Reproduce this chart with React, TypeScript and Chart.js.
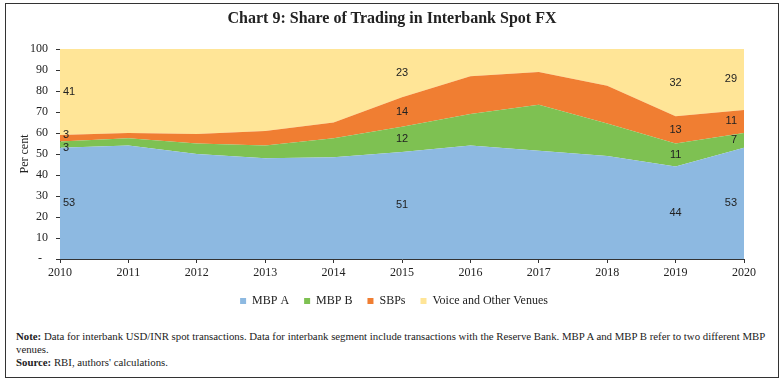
import React, { useEffect, useRef } from "react";
import { Chart, registerables } from "chart.js";

Chart.register(...registerables);

const years = ["2010", "2011", "2012", "2013", "2014", "2015", "2016", "2017", "2018", "2019", "2020"];
const mbpA = [53, 54, 50, 48, 48.5, 51, 54, 51.5, 49, 44, 53];
const mbpB = [3, 3.5, 5, 6, 9, 12, 15, 22, 15.5, 11, 7];
const sbps = [3, 2.5, 4.5, 7, 7.5, 14, 18, 15.5, 18, 13, 11];
const voice = [41, 40, 40.5, 39, 35, 23, 13, 11, 17.5, 32, 29];
const labelledYears = ["2010", "2015", "2019", "2020"];
const yTicks = [0, 10, 20, 30, 40, 50, 60, 70, 80, 90, 100];

const seriesNames = ["MBP A", "MBP B", "SBPs", "Voice and Other Venues"];
const seriesColors = ["#8DB9E1", "#7EC152", "#F07E32", "#FFE597"];

const SERIF = "'Liberation Serif', 'DejaVu Serif', serif";
const SANS = "'Liberation Sans', Arial, sans-serif";

const segLabels = {
  id: "segLabels",
  afterDatasetsDraw(chart: any) {
    const ctx = chart.ctx;
    const xs = chart.scales.x;
    const ys = chart.scales.y;
    ctx.save();
    ctx.font = `11px ${SANS}`;
    ctx.fillStyle = "#222";
    ctx.textBaseline = "middle";
    labelledYears.forEach((yr) => {
      const i = years.indexOf(yr);
      const px = xs.getPixelForValue(i);
      let cum = 0;
      const items = chart.data.datasets.map((ds: any) => {
        const v = ds.data[i] as number;
        const c = cum + v / 2;
        cum += v;
        return { text: String(Math.round(v)), y: ys.getPixelForValue(c) };
      });
      const minGap = 13;
      for (let pass = 0; pass < 6; pass++) {
        for (let k = 0; k < items.length - 1; k++) {
          const gap = items[k].y - items[k + 1].y;
          if (gap < minGap) {
            const d = (minGap - gap) / 2;
            items[k].y += d;
            items[k + 1].y -= d;
          }
        }
      }
      const last = years.length - 1;
      ctx.textAlign = i === 0 ? "left" : i === last ? "right" : "center";
      const x = i === 0 ? px + 3 : i === last ? px - 7 : px;
      items.forEach((it: any) => ctx.fillText(it.text, x, it.y));
    });
    ctx.restore();
  },
};

const legendShift = {
  id: "legendShift",
  beforeDraw(chart: any) {
    const lg = chart.legend;
    if (lg && !lg._shifted) {
      lg.left += 15;
      lg.right += 15;
      lg._shifted = true;
    }
  },
};

function ChartCanvas() {
  const ref = useRef<HTMLCanvasElement | null>(null);
  useEffect(() => {
    if (!ref.current) return;
    const seriesData = [mbpA, mbpB, sbps, voice];
    const chart = new Chart(ref.current, {
      type: "line",
      data: {
        labels: years,
        datasets: seriesData.map((d, k) => ({
          label: seriesNames[k],
          data: d,
          backgroundColor: seriesColors[k],
          borderColor: seriesColors[k],
          borderWidth: 0,
          pointRadius: 0,
          tension: 0,
          fill: k === 0 ? "origin" : "-1",
        })),
      },
      options: {
        responsive: false,
        animation: false,
        layout: { padding: { left: 14, right: 40, top: 49, bottom: 0 } },
        plugins: {
          legend: {
            position: "bottom",
            labels: {
              boxWidth: 6,
              boxHeight: 6,
              padding: 15,
              color: "#222",
              font: { family: SERIF, size: 12 },
            },
          },
          tooltip: { enabled: false },
        },
        scales: {
          x: {
            type: "category",
            offset: false,
            grid: { display: true, drawOnChartArea: false, drawTicks: true, tickLength: 4, color: "#333" },
            border: { display: true, color: "#333", width: 1 },
            ticks: { color: "#222", font: { family: SERIF, size: 12 }, padding: 3, maxRotation: 0, autoSkip: false },
            afterFit(s: any) {
              s.height = 21;
            },
          },
          y: {
            stacked: true,
            min: 0,
            max: 100,
            afterBuildTicks(s: any) {
              s.ticks = yTicks.map((v) => ({ value: v }));
            },
            grid: { display: true, drawOnChartArea: false, drawTicks: true, tickLength: 4, color: "#333" },
            border: { display: true, color: "#333", width: 1 },
            ticks: {
              color: "#222",
              font: { family: SERIF, size: 12 },
              padding: 8,
              callback: (v: any) => (Number(v) === 0 ? "-  " : String(v)),
            },
            title: {
              display: true,
              text: "Per cent",
              color: "#222",
              font: { family: SERIF, size: 12 },
              padding: { top: 4, bottom: 4 },
            },
            afterFit(s: any) {
              s.width = 46;
            },
          },
        },
      } as any,
      plugins: [segLabels, legendShift],
    });
    return () => chart.destroy();
  }, []);
  return <canvas ref={ref} width={784} height={317} style={{ position: "absolute", left: 0, top: 0, width: 784, height: 317 }} />;
}

export default function App() {
  return (
    <div style={{ position: "fixed", left: 0, top: 0, width: 784, height: 383, background: "#fff", overflow: "hidden" }}>
      <ChartCanvas />
      <div
        style={{
          position: "absolute",
          left: 0,
          top: 8,
          width: 784,
          textAlign: "center",
          fontFamily: SERIF,
          fontWeight: 600,
          fontSize: 16,
          lineHeight: "20px",
          color: "#222",
        }}
      >
        Chart 9: Share of Trading in Interbank Spot FX
      </div>
      <div
        style={{
          position: "absolute",
          left: 16,
          top: 330,
          fontFamily: SERIF,
          fontSize: 10.8,
          lineHeight: "13px",
          color: "#222",
          whiteSpace: "nowrap",
        }}
      >
        <div>
          <b>Note:</b> Data for interbank USD/INR spot transactions. Data for interbank segment include transactions with the Reserve Bank. MBP A and MBP B refer to two different MBP
        </div>
        <div>venues.</div>
        <div>
          <b>Source:</b> RBI, authors' calculations.
        </div>
      </div>
      <div
        style={{
          position: "absolute",
          left: 5,
          top: 3,
          width: 774,
          height: 375,
          border: "1px solid #333",
          boxSizing: "border-box",
          pointerEvents: "none",
        }}
      />
    </div>
  );
}
